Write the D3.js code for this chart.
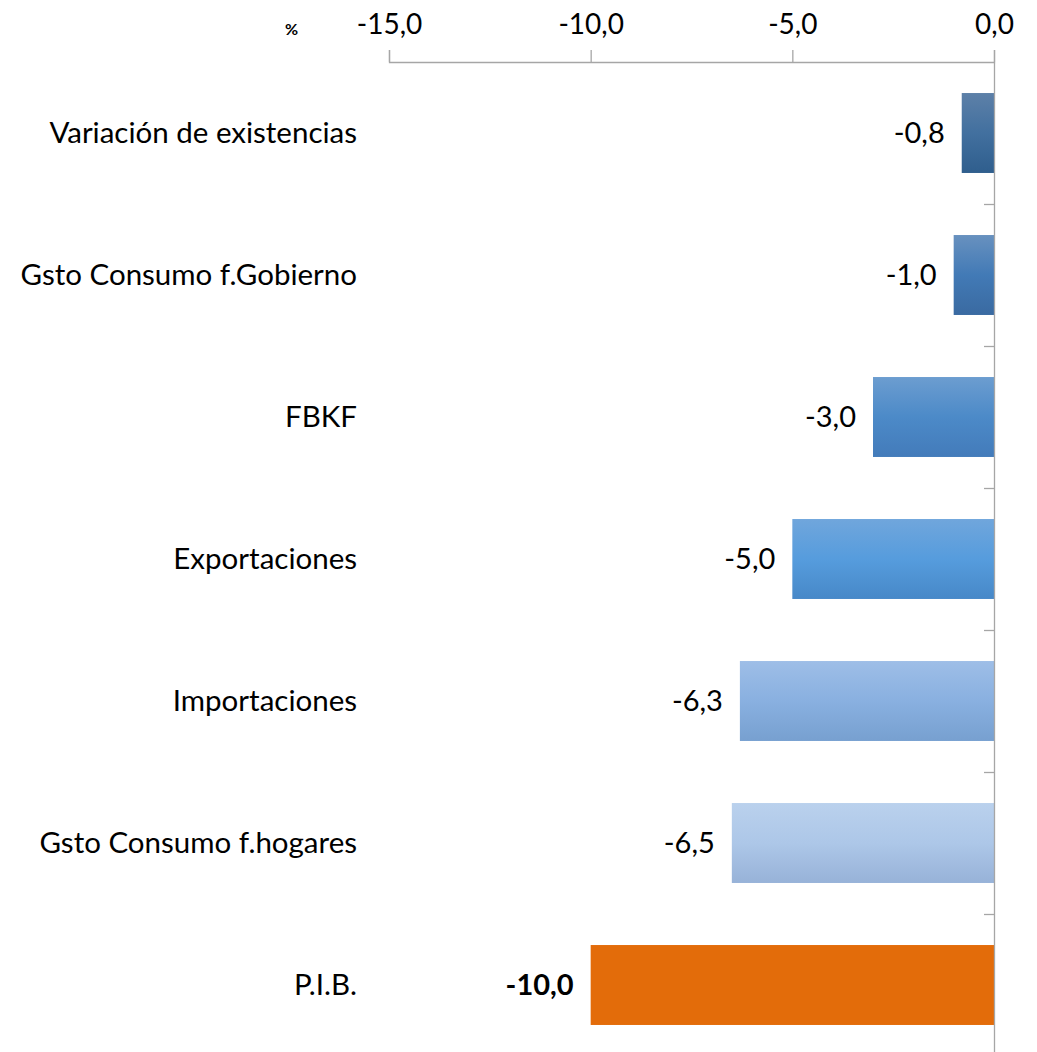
<!DOCTYPE html>
<html>
<head>
<meta charset="utf-8">
<script src="https://cdn.jsdelivr.net/npm/d3@7"></script>
<style>
  body { margin: 0; background: #fff; }
  svg text { font-family: Lato, "Open Sans", sans-serif; fill: #000; }
</style>
</head>
<body>
<svg id="chart" width="1037" height="1052"></svg>
<script>
const categories = ["Variación de existencias", "Gsto Consumo f.Gobierno", "FBKF", "Exportaciones", "Importaciones", "Gsto Consumo f.hogares", "P.I.B."]
const values = [-0.8, -1.0, -3.0, -5.0, -6.3, -6.5, -10.0]
const xTicks = [-15, -10, -5, 0]

// top / middle / bottom of each bar's gradient
const barColors = [
    ["#5d80a8", "#42709f", "#2f5e8d"],
    ["#6891bf", "#427ab6", "#3a6aa1"],
    ["#6c9dd0", "#4c8ac8", "#437bba"],
    ["#70a6dc", "#569cdd", "#4788c8"],
    ["#9ebee7", "#89b0e0", "#77a0d0"],
    ["#bad1ed", "#adc7e8", "#97b2d8"],
    ["#e36c0a", "#e36c0a", "#e36c0a"]
]

const svg = d3.select("#chart")
const locale = d3.formatLocale({decimal: ",", thousands: ".", grouping: [3], currency: ["", ""], minus: "-"})
const fmt = locale.format(".1f")

const x = d3.scaleLinear().domain([-15, 0]).range([389, 994])
const y = d3.scaleBand().domain(categories).range([62, 1056]).paddingInner(0.437).paddingOuter(0.2185)
const yLine = d3.scaleLinear().domain([0, categories.length]).range([62, 1056])

const defs = svg.append("defs")
barColors.forEach((c, i) => {
    const g = defs.append("linearGradient")
        .attr("id", "grad" + i)
        .attr("x1", 0).attr("y1", 0).attr("x2", 0).attr("y2", 1)
    g.append("stop").attr("offset", "0%").attr("stop-color", c[0])
    g.append("stop").attr("offset", "50%").attr("stop-color", c[1])
    g.append("stop").attr("offset", "100%").attr("stop-color", c[2])
})

//bars
svg.append("g").selectAll("rect")
    .data(values)
    .join("rect")
    .attr("x", d => x(d))
    .attr("y", (d, i) => y(categories[i]))
    .attr("width", d => x(0) - x(d))
    .attr("height", y.bandwidth())
    .attr("fill", (d, i) => `url(#grad${i})`)

//top axis
const xAxis = svg.append("g")
    .attr("transform", "translate(0,62)")
    .call(d3.axisTop(x).tickValues(xTicks).tickSize(12).tickSizeOuter(12).tickFormat(fmt))
xAxis.select(".domain").attr("stroke", "#a6a6a6").attr("stroke-width", 1.3)
xAxis.selectAll(".tick line").attr("stroke", "#a6a6a6").attr("stroke-width", 1.3)
xAxis.selectAll(".tick text")
    .attr("y", -28).attr("dy", 0)
    .style("font-size", "28px")
    .style("font-family", "Lato, sans-serif")

//vertical axis at zero, ticks on band boundaries
const yAxis = svg.append("g")
    .attr("transform", `translate(${x(0)},0)`)
    .call(d3.axisLeft(yLine).tickValues(d3.range(1, categories.length)).tickSize(10).tickSizeOuter(0).tickFormat(""))
yAxis.select(".domain").attr("stroke", "#a6a6a6").attr("stroke-width", 1.3)
yAxis.selectAll(".tick line").attr("stroke", "#a6a6a6").attr("stroke-width", 1.3)

//category labels
svg.append("g").selectAll("text")
    .data(categories)
    .join("text")
    .attr("x", 357)
    .attr("y", d => y(d) + y.bandwidth() / 2)
    .attr("dy", "0.35em")
    .attr("text-anchor", "end")
    .style("font-size", "29.5px")
    .text(d => d)

//value labels
svg.append("g").selectAll("text")
    .data(values)
    .join("text")
    .attr("x", d => x(d) - 17)
    .attr("y", (d, i) => y(categories[i]) + y.bandwidth() / 2)
    .attr("dy", "0.35em")
    .attr("text-anchor", "end")
    .style("font-size", "29px")
    .style("font-weight", (d, i) => i === values.length - 1 ? "bold" : "normal")
    .text(d => fmt(d))

svg.append("text")
    .attr("x", 285).attr("y", 35)
    .style("font-size", "16px")
    .style("font-weight", "bold")
    .text("%")
</script>
</body>
</html>
